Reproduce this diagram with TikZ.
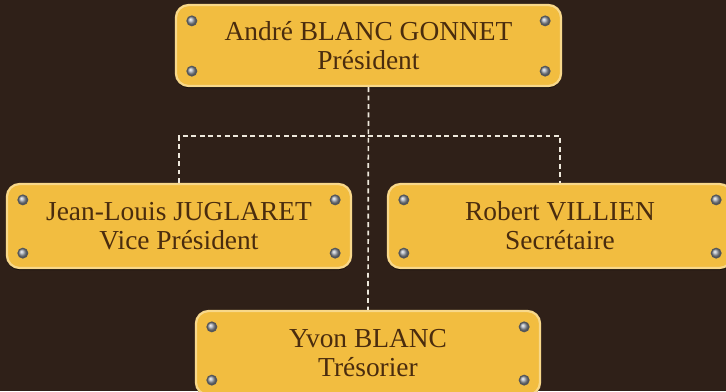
\documentclass[tikz,border=0pt]{standalone}
\usepackage{fontspec}
\setmainfont{Liberation Serif}
\usetikzlibrary{shadows}
\definecolor{bg}    {HTML}{2F2018}
\definecolor{plate} {HTML}{F2BD40}
\definecolor{rim}   {HTML}{F8D88A}
\definecolor{ink}   {HTML}{4A2C0E}
\definecolor{screw} {HTML}{A9AEB6}
\definecolor{link}  {HTML}{EEE8DC}

\begin{document}
\begin{tikzpicture}[x=0.025cm, y=0.025cm,
    plaque/.style={fill=plate, draw=rim, line width=1.6pt, rounded corners=9pt,
      minimum width=8.6cm, minimum height=2.1cm, align=center, text=ink,
      font=\fontsize{19.5}{20.5}\selectfont,
      drop shadow={shadow xshift=0pt, shadow yshift=-1.5pt, opacity=0.6, fill=black}},
    dashlink/.style={draw=link, line width=1.2pt, dash pattern=on 3.5pt off 2.5pt}]
    \useasboundingbox (0, 0) rectangle (726, 391);
    \fill[bg] (0, 0) rectangle (726, 391);

    % plaques
    \node[plaque, minimum width=9.625cm, minimum height=2.025cm] (pres) at (368.5, 345.5)
      {André BLANC GONNET\\Président};
    \node[plaque] (vp)  at (179, 165) {Jean-Louis JUGLARET\\Vice Président};
    \node[plaque] (sec) at (560, 165) {Robert VILLIEN\\Secrétaire};
    \node[plaque] (tre) at (368, 38)  {Yvon BLANC\\Trésorier};

    % screws in the corners
    \foreach \n in {pres, vp, sec, tre}
      \foreach \a/\sx/\sy in {north west/17/-17, north east/-17/-17,
                              south west/17/16, south east/-17/16} {
        \fill[black!50!screw] ([shift={(\sx,\sy)}]\n.\a) circle (5.5);
        \shade[ball color=screw] ([shift={(\sx,\sy)}]\n.\a) circle (4.3);
      }

    % links
    \coordinate (bar) at (368, 255);
    \draw[dashlink] (pres.south) -- (tre.north);
    \draw[dashlink] (vp.north) |- (bar) -| (sec.north);
  \end{tikzpicture}
\end{document}
